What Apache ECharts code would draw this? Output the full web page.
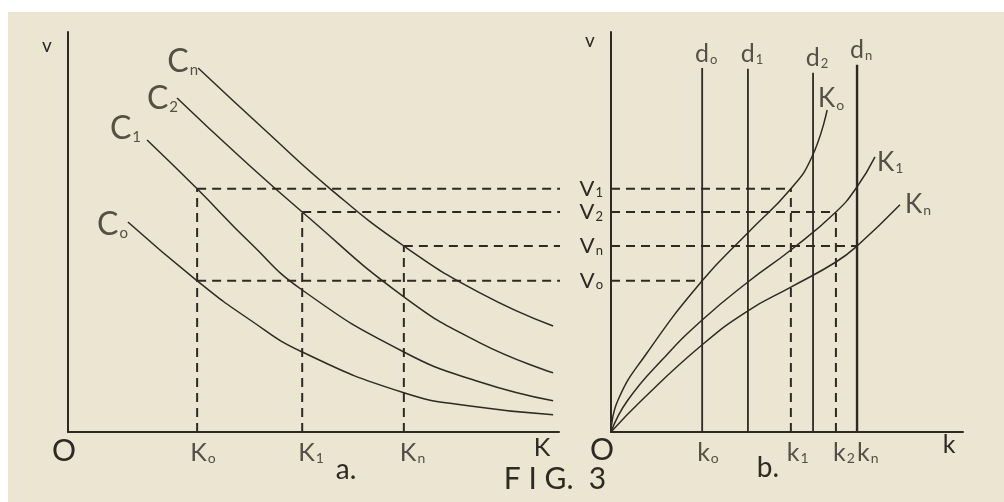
<!DOCTYPE html>
<html>
<head>
<meta charset="utf-8">
<script src="https://cdn.jsdelivr.net/npm/echarts@6/dist/echarts.min.js"></script>
<style>
html, body { margin: 0; padding: 0; background: #fff; }
#paper { position: absolute; left: 8px; top: 12px; width: 996px; height: 490px; background: #ebe5d1; }
#chart { position: absolute; left: 0; top: 0; width: 1004px; height: 502px; }
</style>
</head>
<body>
<div id="paper"></div>
<div id="chart"></div>
<script>
// shared levels v0, v1, v2, vn (same scale in both panels)
var vLevels = { v0: 3.78, v1: 6.08, v2: 5.5, vn: 4.65 };

// panel a : K on the x axis
var bigK = { K0: 2.63, K1: 4.77, Kn: 6.84 };
var curveC0 = [[1.22, 5.25], [2.63, 3.78], [3.71, 2.8], [4.77, 2.0], [6.84, 0.98], [8.19, 0.65], [9.88, 0.43]];
var curveC1 = [[1.61, 7.3], [2.63, 6.08], [3.71, 4.73], [4.77, 3.55], [6.84, 2.0], [8.39, 1.25], [9.88, 0.78]];
var curveC2 = [[2.22, 8.35], [3.5, 6.88], [4.77, 5.5], [6.84, 3.38], [8.39, 2.23], [9.88, 1.48]];
var curveCn = [[2.65, 9.1], [4.01, 7.55], [5.34, 6.08], [6.84, 4.65], [8.39, 3.48], [9.88, 2.65]];

// panel b : k on the x axis
var smallK = { k0: 2.59, k1: 5.11, k2: 6.39, kn: 6.99 };
var dLines = [2.59, 3.89, 5.74, 6.99];
var dTops = [9.1, 9.08, 8.98, 9.18];
var curveK0 = [[0, 0], [0.2, 0.8], [1.0, 1.95], [2.59, 3.78], [3.89, 4.98], [5.11, 6.08], [5.71, 6.88], [6.14, 8.05]];
var curveK1 = [[0, 0], [0.48, 0.8], [1.5, 1.85], [2.59, 2.8], [3.89, 3.75], [5.11, 4.55], [6.39, 5.5], [6.99, 6.13], [7.5, 6.88]];
var curveKn = [[0, 0], [0.88, 0.8], [2.59, 2.18], [3.89, 3.03], [5.11, 3.62], [6.39, 4.25], [6.99, 4.65], [8.21, 5.68]];

var ink = '#2d2a26';
var font = 'Lato, "DejaVu Sans", sans-serif';
var chart = echarts.init(document.getElementById('chart'));

function richSet(size, sub) {
  return {
    m: { fontSize: size, color: ink, fontFamily: font },
    s: { fontSize: sub, color: ink, fontFamily: font, verticalAlign: 'bottom', padding: [0, 0, 0, 1] }
  };
}
function sub(letter, s) { return '{m|' + letter + '}{s|' + s + '}'; }

function seg(g, pts, dashed, w) {
  return {
    type: 'line', xAxisIndex: g, yAxisIndex: g, data: pts, symbol: 'none',
    clip: false, silent: true, animation: false,
    lineStyle: { color: ink, width: w || 1.6, type: dashed ? [9, 6] : 'solid' }
  };
}
function curve(g, pts) {
  var s = seg(g, pts, false, 1.5);
  s.smooth = 0.5;
  return s;
}
function textMarks(g, items, label) {
  return {
    type: 'scatter', xAxisIndex: g, yAxisIndex: g, symbolSize: 0, silent: true, animation: false,
    data: items, label: label
  };
}

function axes(g, yLabels) {
  var x = {
    type: 'value', gridIndex: g, min: 0, max: 10,
    splitLine: { show: false }, axisTick: { show: false },
    axisLine: { lineStyle: { color: ink, width: 2 } },
    axisLabel: { show: false }
  };
  var y = {
    type: 'value', gridIndex: g, min: 0, max: 10,
    splitLine: { show: false }, axisTick: { show: false },
    axisLine: { lineStyle: { color: ink, width: 2 } },
    axisLabel: { show: false }
  };
  if (yLabels) {
    y.axisLabel = {
      show: true, customValues: yLabels.vals, margin: 8, align: 'right', hideOverlap: false,
      rich: richSet(22, 13),
      formatter: function (v) { return yLabels.text[nearest(yLabels.vals, v)]; }
    };
  }
  return [x, y];
}
function nearest(arr, v) {
  var best = 0;
  for (var i = 1; i < arr.length; i++) if (Math.abs(arr[i] - v) < Math.abs(arr[best] - v)) best = i;
  return best;
}

var axA = axes(0, null);
var axB = axes(1, { vals: [vLevels.v1, vLevels.v2, vLevels.vn, vLevels.v0], text: [sub('V', '1'), sub('V', '2'), sub('V', 'n'), sub('V', 'o')] });

var gapEnd = 10.08; // dashes of panel a run just past its axis end
var series = [
  curve(0, curveC0), curve(0, curveC1), curve(0, curveC2), curve(0, curveCn),
  seg(0, [[bigK.K0, 0], [bigK.K0, vLevels.v1]], true, 2),
  seg(0, [[bigK.K1, 0], [bigK.K1, vLevels.v2]], true, 2),
  seg(0, [[bigK.Kn, 0], [bigK.Kn, vLevels.vn]], true, 2),
  seg(0, [[bigK.K0, vLevels.v1], [gapEnd, vLevels.v1]], true, 2),
  seg(0, [[bigK.K1, vLevels.v2], [gapEnd, vLevels.v2]], true, 2),
  seg(0, [[bigK.Kn, vLevels.vn], [gapEnd, vLevels.vn]], true, 2),
  seg(0, [[bigK.K0, vLevels.v0], [gapEnd, vLevels.v0]], true, 2),

  curve(1, curveK0), curve(1, curveK1), curve(1, curveKn),
  seg(1, [[0, vLevels.v1], [smallK.k1, vLevels.v1]], true, 2),
  seg(1, [[0, vLevels.v2], [smallK.k2, vLevels.v2]], true, 2),
  seg(1, [[0, vLevels.vn], [smallK.kn, vLevels.vn]], true, 2),
  seg(1, [[0, vLevels.v0], [smallK.k0, vLevels.v0]], true, 2),
  seg(1, [[smallK.k1, 0], [smallK.k1, vLevels.v1]], true, 2),
  seg(1, [[smallK.k2, 0], [smallK.k2, vLevels.v2]], true, 2)
];
dLines.forEach(function (d, i) {
  series.push(seg(1, [[d, 0], [d, dTops[i]]], false, i === 3 ? 2.4 : 1.8));
});

// tick names under both x axes
var tickLabel = { show: true, position: 'bottom', align: 'left', distance: 8, rich: richSet(25, 14) };
series.push(textMarks(0, [
  { value: [bigK.K0, 0], label: { formatter: sub('K', 'o'), offset: [-7, 0] } },
  { value: [bigK.K1, 0], label: { formatter: sub('K', '1'), offset: [-4, 0] } },
  { value: [bigK.Kn, 0], label: { formatter: sub('K', 'n'), offset: [-4, 0] } }
], tickLabel));
series.push(textMarks(1, [
  { value: [smallK.k0, 0], label: { formatter: sub('k', 'o'), offset: [-5, 0] } },
  { value: [smallK.k1, 0], label: { formatter: sub('k', '1'), offset: [-4, 0] } },
  { value: [smallK.k2, 0], label: { formatter: sub('k', '2'), offset: [-3, 0] } },
  { value: [smallK.kn, 0], label: { formatter: sub('k', 'n'), offset: [0, 0] } }
], tickLabel));

// curve names and d labels, anchored on the marks themselves
var cNames = ['o', '1', '2', 'n'];
var cOffsets = [[2, 3], [-4, -11], [3, 1], [2, -6]];
series.push(textMarks(0, [curveC0, curveC1, curveC2, curveCn].map(function (c, i) {
  return { value: c[0], label: { formatter: sub('C', cNames[i]), offset: cOffsets[i] } };
}), { show: true, position: 'left', distance: 2, rich: richSet(32, 15) }));

var kEnds = [curveK0, curveK1, curveKn].map(function (c) { return c[c.length - 1]; });
series.push(textMarks(1, [
  { value: kEnds[0], label: { position: 'top', distance: 0, offset: [4, 2], formatter: sub('K', 'o') } },
  { value: kEnds[1], label: { position: 'right', distance: 2, offset: [0, 6], formatter: sub('K', '1') } },
  { value: kEnds[2], label: { position: 'right', distance: 5, offset: [0, 0], formatter: sub('K', 'n') } }
], { show: true, rich: richSet(26, 14) }));

var dNames = ['o', '1', '2', 'n'];
series.push(textMarks(1, dLines.map(function (d, i) {
  return { value: [d, dTops[i]], label: { formatter: sub('d', dNames[i]) } };
}), { show: true, position: 'top', distance: 2, offset: [4, 0], rich: richSet(25, 13) }));

function txt(x, y, s, size) {
  return {
    type: 'text', silent: true,
    style: { x: x, y: y, text: s, fill: ink, font: size + 'px ' + font, textAlign: 'center', textVerticalAlign: 'middle' }
  };
}

var option = {
  backgroundColor: 'transparent',
  animation: false,
  grid: [
    { left: 68, top: 32, width: 491, height: 400 },
    { left: 611, top: 32, width: 352, height: 400 }
  ],
  xAxis: [axA[0], axB[0]],
  yAxis: [axA[1], axB[1]],
  series: series,
  graphic: [
    txt(47, 46, 'v', 19),
    txt(590, 41, 'v', 19),
    txt(64, 451, 'O', 30),
    txt(602, 450, 'O', 30),
    txt(542, 448, 'K', 25),
    txt(949, 445, 'k', 25),
    txt(346, 470, 'a.', 28),
    txt(768, 468, 'b.', 28),
    txt(555, 479, 'F I G.  3', 30)
  ]
};
chart.setOption(option);
</script>
</body>
</html>
